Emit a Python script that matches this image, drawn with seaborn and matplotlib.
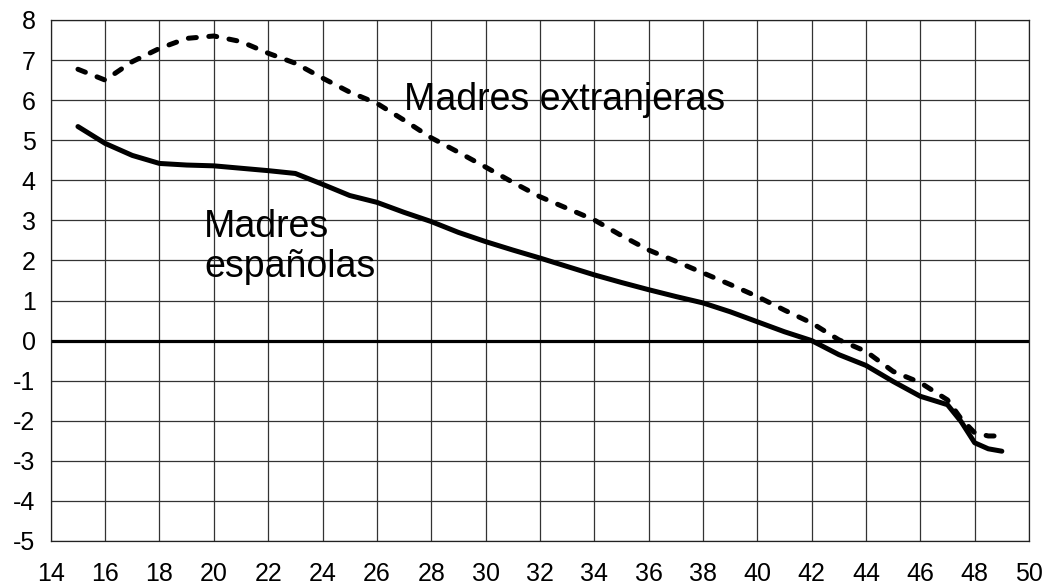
import matplotlib
matplotlib.use("Agg")
import matplotlib.pyplot as plt
import numpy as np
import pandas as pd
import seaborn as sns

# edad de la madre
edad = [15, 16, 17, 18, 19, 20, 21, 22, 23, 24, 25, 26, 27, 28, 29, 30, 31, 32,
        33, 34, 35, 36, 37, 38, 39, 40, 41, 42, 43, 44, 45, 46, 47, 47.5, 48, 48.5, 49]
espanolas = [5.34, 4.92, 4.62, 4.42, 4.38, 4.36, 4.3, 4.24, 4.17, 3.9, 3.62, 3.45, 3.2,
             2.97, 2.7, 2.47, 2.26, 2.06, 1.85, 1.64, 1.45, 1.27, 1.1, 0.94, 0.72,
             0.47, 0.22, 0.0, -0.35, -0.62, -1.02, -1.39, -1.6, -2.02, -2.55, -2.7, -2.76]
extranjeras = [6.77, 6.5, 6.96, 7.29, 7.54, 7.6, 7.46, 7.17, 6.92, 6.55, 6.2, 5.92, 5.5,
               5.06, 4.7, 4.33, 3.95, 3.59, 3.3, 3.01, 2.62, 2.26, 1.98, 1.69, 1.4,
               1.1, 0.76, 0.44, 0.02, -0.27, -0.77, -1.05, -1.48, -1.95, -2.3, -2.38, -2.38]

df = pd.DataFrame({"edad": edad, "esp": espanolas, "ext": extranjeras})

sns.set_style("white")
plt.rcParams["font.family"] = ["Liberation Sans", "DejaVu Sans"]
plt.rcParams["axes.unicode_minus"] = False
plt.rcParams["text.color"] = "black"

fig = plt.figure(figsize=(10.58, 5.87), dpi=100)
ax = fig.add_axes([0.048, 0.0784, 0.9246, 0.8876])

ax.set_xlim(14, 50)
ax.set_ylim(-5, 8)
ax.set_xticks(np.arange(14, 51, 2))
ax.set_yticks(np.arange(-5, 9, 1))
ax.grid(True, color="#333333", linewidth=0.9)
ax.set_axisbelow(True)
for s in ax.spines.values():
    s.set_color("#222222")
    s.set_linewidth(0.9)
ax.tick_params(length=0, labelsize=18, colors="black")
ax.tick_params(axis="y", pad=11)
ax.tick_params(axis="x", pad=15)

# linea del cero
ax.axhline(0, color="black", linewidth=2.3, zorder=2)

sns.lineplot(data=df, x="edad", y="esp", ax=ax, color="black", linewidth=3.6,
             solid_capstyle="round", zorder=3)
sns.lineplot(data=df, x="edad", y="ext", ax=ax, color="black", linewidth=3.6,
             linestyle=(0, (1.6, 2.5)), dash_capstyle="round", zorder=3)

ax.text(27.0, 6.0, "Madres extranjeras", fontsize=27, va="center", ha="left")
ax.text(19.65, 2.33, "Madres\nespañolas", fontsize=27, va="center", ha="left",
        linespacing=1.15)

ax.set_xlabel("")
ax.set_ylabel("")

fig.savefig("out.png", dpi=100)
